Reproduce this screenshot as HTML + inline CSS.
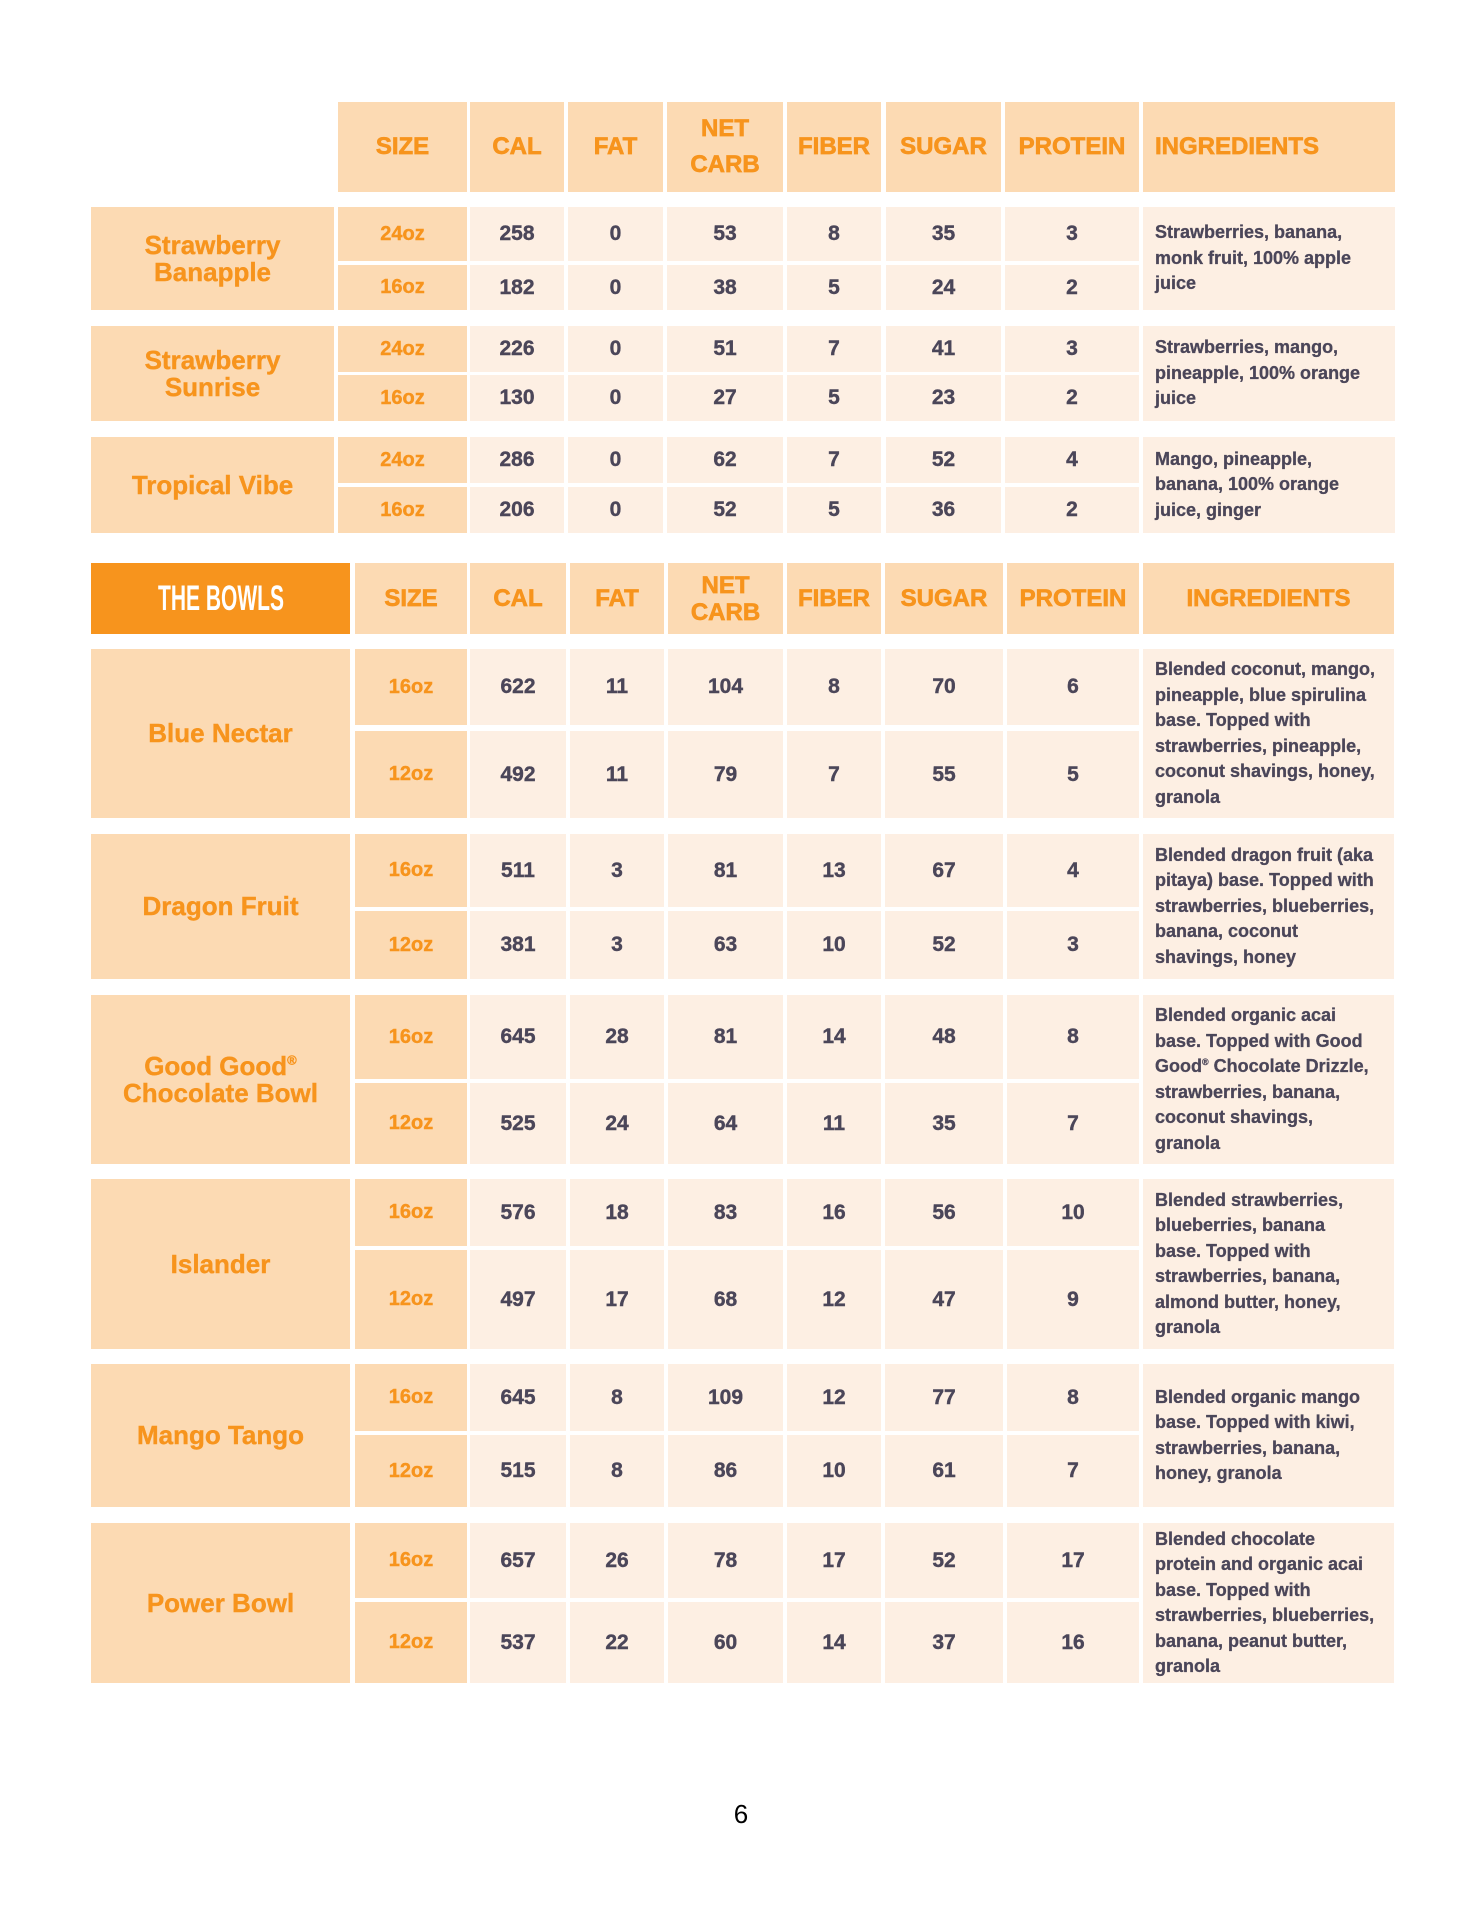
<!DOCTYPE html>
<html><head><meta charset="utf-8">
<style>
html,body{margin:0;padding:0;background:#fff;}
body{width:1484px;height:1920px;position:relative;overflow:hidden;font-family:"Liberation Sans",sans-serif;font-weight:700;}
.c{position:absolute;display:flex;align-items:center;justify-content:center;text-align:center;box-sizing:border-box;white-space:nowrap;}
.p{background:#FCDAB3;}
.l{background:#FDEFE3;}
.h{font-size:24px;color:#F7941D;-webkit-text-stroke:0.7px #F7941D;line-height:36px;}
.h2{line-height:27px;}
.n{font-size:26px;color:#F7941D;line-height:27px;-webkit-text-stroke:0.4px #F7941D;}
.s{font-size:20px;color:#F7941D;-webkit-text-stroke:0.4px #F7941D;}
.v{font-size:21px;color:#4B4659;-webkit-text-stroke:0.4px #4B4659;}
.i{font-size:18px;color:#4B4659;justify-content:flex-start;text-align:left;padding-left:12px;line-height:25.5px;-webkit-text-stroke:0.3px #4B4659;}
.il{justify-content:flex-start;text-align:left;padding-left:12px;}
sup{font-size:0.5em;vertical-align:0.8em;line-height:0;}
.bowls{background:#F7941D;color:#fff;}
.bowls span{display:inline-block;font-size:35px;transform:scaleX(0.6);letter-spacing:0px;}
.pg{position:absolute;left:726px;top:1799px;width:30px;text-align:center;font-family:"Liberation Sans",sans-serif;font-weight:400;font-size:26px;color:#000;}
</style></head><body>

<!-- TOP TABLE HEADER -->
<div class="c p h" style="left:338px;top:102px;width:129px;height:90px">SIZE</div>
<div class="c p h" style="left:470px;top:102px;width:94px;height:90px">CAL</div>
<div class="c p h" style="left:568px;top:102px;width:95px;height:90px">FAT</div>
<div class="c p h" style="left:667px;top:102px;width:116px;height:90px"><div>NET<br>CARB</div></div>
<div class="c p h" style="left:787px;top:102px;width:94px;height:90px">FIBER</div>
<div class="c p h" style="left:886px;top:102px;width:115px;height:90px">SUGAR</div>
<div class="c p h" style="left:1005px;top:102px;width:134px;height:90px">PROTEIN</div>
<div class="c p h il" style="left:1143px;top:102px;width:252px;height:90px">INGREDIENTS</div>

<!-- Strawberry Banapple -->
<div class="c p n" style="left:91px;top:207px;width:243px;height:103px"><div>Strawberry<br>Banapple</div></div>
<div class="c p s" style="left:338px;top:207px;width:129px;height:54px">24oz</div>
<div class="c l v" style="left:470px;top:207px;width:94px;height:54px">258</div>
<div class="c l v" style="left:568px;top:207px;width:95px;height:54px">0</div>
<div class="c l v" style="left:667px;top:207px;width:116px;height:54px">53</div>
<div class="c l v" style="left:787px;top:207px;width:94px;height:54px">8</div>
<div class="c l v" style="left:886px;top:207px;width:115px;height:54px">35</div>
<div class="c l v" style="left:1005px;top:207px;width:134px;height:54px">3</div>
<div class="c p s" style="left:338px;top:265px;width:129px;height:45px">16oz</div>
<div class="c l v" style="left:470px;top:265px;width:94px;height:45px">182</div>
<div class="c l v" style="left:568px;top:265px;width:95px;height:45px">0</div>
<div class="c l v" style="left:667px;top:265px;width:116px;height:45px">38</div>
<div class="c l v" style="left:787px;top:265px;width:94px;height:45px">5</div>
<div class="c l v" style="left:886px;top:265px;width:115px;height:45px">24</div>
<div class="c l v" style="left:1005px;top:265px;width:134px;height:45px">2</div>
<div class="c l i" style="left:1143px;top:207px;width:252px;height:103px"><div>Strawberries, banana,<br>monk fruit, 100% apple<br>juice</div></div>

<!-- Strawberry Sunrise -->
<div class="c p n" style="left:91px;top:326px;width:243px;height:95px"><div>Strawberry<br>Sunrise</div></div>
<div class="c p s" style="left:338px;top:326px;width:129px;height:46px">24oz</div>
<div class="c l v" style="left:470px;top:326px;width:94px;height:46px">226</div>
<div class="c l v" style="left:568px;top:326px;width:95px;height:46px">0</div>
<div class="c l v" style="left:667px;top:326px;width:116px;height:46px">51</div>
<div class="c l v" style="left:787px;top:326px;width:94px;height:46px">7</div>
<div class="c l v" style="left:886px;top:326px;width:115px;height:46px">41</div>
<div class="c l v" style="left:1005px;top:326px;width:134px;height:46px">3</div>
<div class="c p s" style="left:338px;top:375px;width:129px;height:46px">16oz</div>
<div class="c l v" style="left:470px;top:375px;width:94px;height:46px">130</div>
<div class="c l v" style="left:568px;top:375px;width:95px;height:46px">0</div>
<div class="c l v" style="left:667px;top:375px;width:116px;height:46px">27</div>
<div class="c l v" style="left:787px;top:375px;width:94px;height:46px">5</div>
<div class="c l v" style="left:886px;top:375px;width:115px;height:46px">23</div>
<div class="c l v" style="left:1005px;top:375px;width:134px;height:46px">2</div>
<div class="c l i" style="left:1143px;top:326px;width:252px;height:95px"><div>Strawberries, mango,<br>pineapple, 100% orange<br>juice</div></div>

<!-- Tropical Vibe -->
<div class="c p n" style="left:91px;top:437px;width:243px;height:96px">Tropical Vibe</div>
<div class="c p s" style="left:338px;top:437px;width:129px;height:46px">24oz</div>
<div class="c l v" style="left:470px;top:437px;width:94px;height:46px">286</div>
<div class="c l v" style="left:568px;top:437px;width:95px;height:46px">0</div>
<div class="c l v" style="left:667px;top:437px;width:116px;height:46px">62</div>
<div class="c l v" style="left:787px;top:437px;width:94px;height:46px">7</div>
<div class="c l v" style="left:886px;top:437px;width:115px;height:46px">52</div>
<div class="c l v" style="left:1005px;top:437px;width:134px;height:46px">4</div>
<div class="c p s" style="left:338px;top:487px;width:129px;height:46px">16oz</div>
<div class="c l v" style="left:470px;top:487px;width:94px;height:46px">206</div>
<div class="c l v" style="left:568px;top:487px;width:95px;height:46px">0</div>
<div class="c l v" style="left:667px;top:487px;width:116px;height:46px">52</div>
<div class="c l v" style="left:787px;top:487px;width:94px;height:46px">5</div>
<div class="c l v" style="left:886px;top:487px;width:115px;height:46px">36</div>
<div class="c l v" style="left:1005px;top:487px;width:134px;height:46px">2</div>
<div class="c l i" style="left:1143px;top:437px;width:252px;height:96px"><div>Mango, pineapple,<br>banana, 100% orange<br>juice, ginger</div></div>

<!-- BOWLS HEADER -->
<div class="c bowls" style="left:91px;top:563px;width:259px;height:71px"><span>THE BOWLS</span></div>
<div class="c p h" style="left:355px;top:563px;width:112px;height:71px">SIZE</div>
<div class="c p h" style="left:470px;top:563px;width:96px;height:71px">CAL</div>
<div class="c p h" style="left:570px;top:563px;width:94px;height:71px">FAT</div>
<div class="c p h h2" style="left:668px;top:563px;width:115px;height:71px"><div>NET<br>CARB</div></div>
<div class="c p h" style="left:787px;top:563px;width:94px;height:71px">FIBER</div>
<div class="c p h" style="left:885px;top:563px;width:118px;height:71px">SUGAR</div>
<div class="c p h" style="left:1007px;top:563px;width:132px;height:71px">PROTEIN</div>
<div class="c p h" style="left:1143px;top:563px;width:251px;height:71px">INGREDIENTS</div>

<!-- Blue Nectar -->
<div class="c p n" style="left:91px;top:649px;width:259px;height:169px">Blue Nectar</div>
<div class="c p s" style="left:355px;top:649px;width:112px;height:76px">16oz</div>
<div class="c l v" style="left:470px;top:649px;width:96px;height:76px">622</div>
<div class="c l v" style="left:570px;top:649px;width:94px;height:76px">11</div>
<div class="c l v" style="left:668px;top:649px;width:115px;height:76px">104</div>
<div class="c l v" style="left:787px;top:649px;width:94px;height:76px">8</div>
<div class="c l v" style="left:885px;top:649px;width:118px;height:76px">70</div>
<div class="c l v" style="left:1007px;top:649px;width:132px;height:76px">6</div>
<div class="c p s" style="left:355px;top:731px;width:112px;height:87px">12oz</div>
<div class="c l v" style="left:470px;top:731px;width:96px;height:87px">492</div>
<div class="c l v" style="left:570px;top:731px;width:94px;height:87px">11</div>
<div class="c l v" style="left:668px;top:731px;width:115px;height:87px">79</div>
<div class="c l v" style="left:787px;top:731px;width:94px;height:87px">7</div>
<div class="c l v" style="left:885px;top:731px;width:118px;height:87px">55</div>
<div class="c l v" style="left:1007px;top:731px;width:132px;height:87px">5</div>
<div class="c l i" style="left:1143px;top:649px;width:251px;height:169px"><div>Blended coconut, mango,<br>pineapple, blue spirulina<br>base. Topped with<br>strawberries, pineapple,<br>coconut shavings, honey,<br>granola</div></div>

<!-- Dragon Fruit -->
<div class="c p n" style="left:91px;top:834px;width:259px;height:145px">Dragon Fruit</div>
<div class="c p s" style="left:355px;top:834px;width:112px;height:73px">16oz</div>
<div class="c l v" style="left:470px;top:834px;width:96px;height:73px">511</div>
<div class="c l v" style="left:570px;top:834px;width:94px;height:73px">3</div>
<div class="c l v" style="left:668px;top:834px;width:115px;height:73px">81</div>
<div class="c l v" style="left:787px;top:834px;width:94px;height:73px">13</div>
<div class="c l v" style="left:885px;top:834px;width:118px;height:73px">67</div>
<div class="c l v" style="left:1007px;top:834px;width:132px;height:73px">4</div>
<div class="c p s" style="left:355px;top:911px;width:112px;height:68px">12oz</div>
<div class="c l v" style="left:470px;top:911px;width:96px;height:68px">381</div>
<div class="c l v" style="left:570px;top:911px;width:94px;height:68px">3</div>
<div class="c l v" style="left:668px;top:911px;width:115px;height:68px">63</div>
<div class="c l v" style="left:787px;top:911px;width:94px;height:68px">10</div>
<div class="c l v" style="left:885px;top:911px;width:118px;height:68px">52</div>
<div class="c l v" style="left:1007px;top:911px;width:132px;height:68px">3</div>
<div class="c l i" style="left:1143px;top:834px;width:251px;height:145px"><div>Blended dragon fruit (aka<br>pitaya) base. Topped with<br>strawberries, blueberries,<br>banana, coconut<br>shavings, honey</div></div>

<!-- Good Good Chocolate Bowl -->
<div class="c p n" style="left:91px;top:995px;width:259px;height:169px"><div>Good Good<sup>®</sup><br>Chocolate Bowl</div></div>
<div class="c p s" style="left:355px;top:995px;width:112px;height:84px">16oz</div>
<div class="c l v" style="left:470px;top:995px;width:96px;height:84px">645</div>
<div class="c l v" style="left:570px;top:995px;width:94px;height:84px">28</div>
<div class="c l v" style="left:668px;top:995px;width:115px;height:84px">81</div>
<div class="c l v" style="left:787px;top:995px;width:94px;height:84px">14</div>
<div class="c l v" style="left:885px;top:995px;width:118px;height:84px">48</div>
<div class="c l v" style="left:1007px;top:995px;width:132px;height:84px">8</div>
<div class="c p s" style="left:355px;top:1083px;width:112px;height:81px">12oz</div>
<div class="c l v" style="left:470px;top:1083px;width:96px;height:81px">525</div>
<div class="c l v" style="left:570px;top:1083px;width:94px;height:81px">24</div>
<div class="c l v" style="left:668px;top:1083px;width:115px;height:81px">64</div>
<div class="c l v" style="left:787px;top:1083px;width:94px;height:81px">11</div>
<div class="c l v" style="left:885px;top:1083px;width:118px;height:81px">35</div>
<div class="c l v" style="left:1007px;top:1083px;width:132px;height:81px">7</div>
<div class="c l i" style="left:1143px;top:995px;width:251px;height:169px"><div>Blended organic acai<br>base. Topped with Good<br>Good<sup>®</sup> Chocolate Drizzle,<br>strawberries, banana,<br>coconut shavings,<br>granola</div></div>

<!-- Islander -->
<div class="c p n" style="left:91px;top:1179px;width:259px;height:170px">Islander</div>
<div class="c p s" style="left:355px;top:1179px;width:112px;height:67px">16oz</div>
<div class="c l v" style="left:470px;top:1179px;width:96px;height:67px">576</div>
<div class="c l v" style="left:570px;top:1179px;width:94px;height:67px">18</div>
<div class="c l v" style="left:668px;top:1179px;width:115px;height:67px">83</div>
<div class="c l v" style="left:787px;top:1179px;width:94px;height:67px">16</div>
<div class="c l v" style="left:885px;top:1179px;width:118px;height:67px">56</div>
<div class="c l v" style="left:1007px;top:1179px;width:132px;height:67px">10</div>
<div class="c p s" style="left:355px;top:1250px;width:112px;height:99px">12oz</div>
<div class="c l v" style="left:470px;top:1250px;width:96px;height:99px">497</div>
<div class="c l v" style="left:570px;top:1250px;width:94px;height:99px">17</div>
<div class="c l v" style="left:668px;top:1250px;width:115px;height:99px">68</div>
<div class="c l v" style="left:787px;top:1250px;width:94px;height:99px">12</div>
<div class="c l v" style="left:885px;top:1250px;width:118px;height:99px">47</div>
<div class="c l v" style="left:1007px;top:1250px;width:132px;height:99px">9</div>
<div class="c l i" style="left:1143px;top:1179px;width:251px;height:170px"><div>Blended strawberries,<br>blueberries, banana<br>base. Topped with<br>strawberries, banana,<br>almond butter, honey,<br>granola</div></div>

<!-- Mango Tango -->
<div class="c p n" style="left:91px;top:1364px;width:259px;height:143px">Mango Tango</div>
<div class="c p s" style="left:355px;top:1364px;width:112px;height:67px">16oz</div>
<div class="c l v" style="left:470px;top:1364px;width:96px;height:67px">645</div>
<div class="c l v" style="left:570px;top:1364px;width:94px;height:67px">8</div>
<div class="c l v" style="left:668px;top:1364px;width:115px;height:67px">109</div>
<div class="c l v" style="left:787px;top:1364px;width:94px;height:67px">12</div>
<div class="c l v" style="left:885px;top:1364px;width:118px;height:67px">77</div>
<div class="c l v" style="left:1007px;top:1364px;width:132px;height:67px">8</div>
<div class="c p s" style="left:355px;top:1435px;width:112px;height:72px">12oz</div>
<div class="c l v" style="left:470px;top:1435px;width:96px;height:72px">515</div>
<div class="c l v" style="left:570px;top:1435px;width:94px;height:72px">8</div>
<div class="c l v" style="left:668px;top:1435px;width:115px;height:72px">86</div>
<div class="c l v" style="left:787px;top:1435px;width:94px;height:72px">10</div>
<div class="c l v" style="left:885px;top:1435px;width:118px;height:72px">61</div>
<div class="c l v" style="left:1007px;top:1435px;width:132px;height:72px">7</div>
<div class="c l i" style="left:1143px;top:1364px;width:251px;height:143px"><div>Blended organic mango<br>base. Topped with kiwi,<br>strawberries, banana,<br>honey, granola</div></div>

<!-- Power Bowl -->
<div class="c p n" style="left:91px;top:1523px;width:259px;height:160px">Power Bowl</div>
<div class="c p s" style="left:355px;top:1523px;width:112px;height:75px">16oz</div>
<div class="c l v" style="left:470px;top:1523px;width:96px;height:75px">657</div>
<div class="c l v" style="left:570px;top:1523px;width:94px;height:75px">26</div>
<div class="c l v" style="left:668px;top:1523px;width:115px;height:75px">78</div>
<div class="c l v" style="left:787px;top:1523px;width:94px;height:75px">17</div>
<div class="c l v" style="left:885px;top:1523px;width:118px;height:75px">52</div>
<div class="c l v" style="left:1007px;top:1523px;width:132px;height:75px">17</div>
<div class="c p s" style="left:355px;top:1602px;width:112px;height:81px">12oz</div>
<div class="c l v" style="left:470px;top:1602px;width:96px;height:81px">537</div>
<div class="c l v" style="left:570px;top:1602px;width:94px;height:81px">22</div>
<div class="c l v" style="left:668px;top:1602px;width:115px;height:81px">60</div>
<div class="c l v" style="left:787px;top:1602px;width:94px;height:81px">14</div>
<div class="c l v" style="left:885px;top:1602px;width:118px;height:81px">37</div>
<div class="c l v" style="left:1007px;top:1602px;width:132px;height:81px">16</div>
<div class="c l i" style="left:1143px;top:1523px;width:251px;height:160px"><div>Blended chocolate<br>protein and organic acai<br>base. Topped with<br>strawberries, blueberries,<br>banana, peanut butter,<br>granola</div></div>

<div class="pg">6</div>
</body></html>
